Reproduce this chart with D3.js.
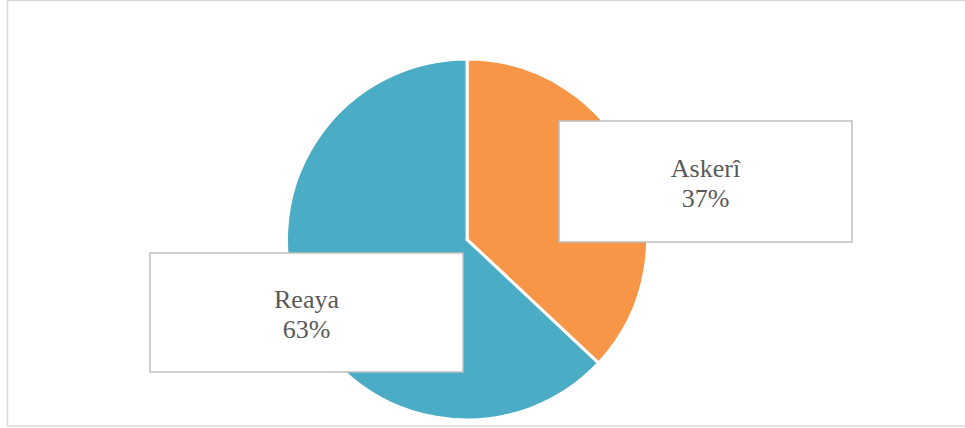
<!DOCTYPE html>
<html>
<head>
<meta charset="utf-8">
<script src="https://cdn.jsdelivr.net/npm/d3@7"></script>
<style>
  body { margin: 0; background: #fff; }
  svg { display: block; }
</style>
</head>
<body>
<svg id="chart"></svg>
<script>
// data
const categories = ['Askerî', 'Reaya'];
const shares = [37, 63];
const colors = ['#F79646', '#4BACC6'];

const width = 965, height = 428;
const cx = 467, cy = 239.5, radius = 180.5;

const svg = d3.select('#chart')
    .attr('width', width)
    .attr('height', height);

// chart frame
svg.append('rect')
    .attr('x', 7.5)
    .attr('y', 0.5)
    .attr('width', 970)
    .attr('height', 425.5)
    .attr('fill', 'none')
    .attr('stroke', '#d9d9d9')
    .attr('stroke-width', 1.5);

const data = categories.map((c, i) => ({ name: c, value: shares[i], color: colors[i] }));

const pie = d3.pie()
    .sort(null)
    .value(d => d.value);

const arc = d3.arc()
    .innerRadius(0)
    .outerRadius(radius);

const g = svg.append('g')
    .attr('transform', `translate(${cx},${cy})`);

g.selectAll('path')
    .data(pie(data))
    .enter()
    .append('path')
        .attr('d', arc)
        .attr('fill', d => d.data.color)
        .attr('stroke', '#fff')
        .attr('stroke-width', 3);

// label boxes (position of each callout box, keyed by category)
const boxes = {
    'Askerî': { x: 559, y: 121, w: 293, h: 121 },
    'Reaya':  { x: 150, y: 253, w: 313, h: 119 }
};

const labels = svg.selectAll('g.label')
    .data(data)
    .enter()
    .append('g')
        .attr('class', 'label');

labels.append('rect')
    .attr('x', d => boxes[d.name].x)
    .attr('y', d => boxes[d.name].y)
    .attr('width', d => boxes[d.name].w)
    .attr('height', d => boxes[d.name].h)
    .attr('fill', '#fff')
    .attr('stroke', '#bfbfbf')
    .attr('stroke-width', 1.5);

const txt = labels.append('text')
    .attr('text-anchor', 'middle')
    .attr('font-family', '"Liberation Serif", "Times New Roman", serif')
    .attr('font-size', 26)
    .attr('fill', '#595959');

txt.append('tspan')
    .attr('x', d => boxes[d.name].x + boxes[d.name].w / 2)
    .attr('y', d => boxes[d.name].y + boxes[d.name].h / 2 - 4.5)
    .text(d => d.name);

txt.append('tspan')
    .attr('x', d => boxes[d.name].x + boxes[d.name].w / 2)
    .attr('y', d => boxes[d.name].y + boxes[d.name].h / 2 + 25.5)
    .text(d => d.value + '%');
</script>
</body>
</html>
